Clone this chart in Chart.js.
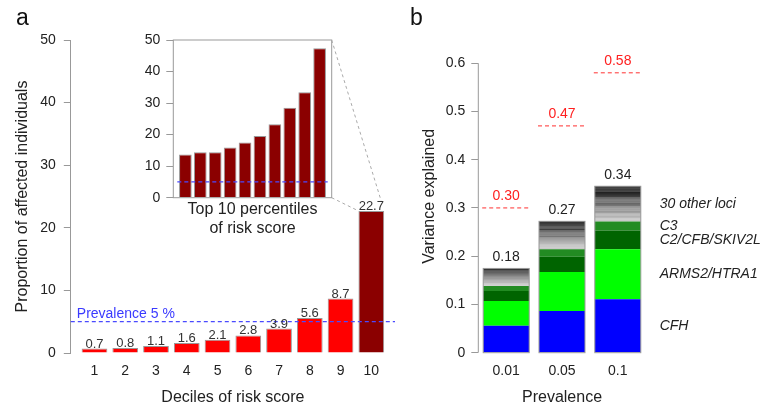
<!DOCTYPE html>
<html>
<head>
<meta charset="utf-8">
<script src="https://cdn.jsdelivr.net/npm/chart.js@4.4.1/dist/chart.umd.min.js"></script>
<style>
  body { margin: 0; background: #fff; }
  #wrap { position: relative; width: 763px; height: 409px; overflow: hidden; }
  canvas { position: absolute; top: 0; }
</style>
</head>
<body>
<div id="wrap">
  <canvas id="riskChart" width="400" height="409" style="left:0"></canvas>
  <canvas id="topChart" width="400" height="409" style="left:0"></canvas>
  <canvas id="varChart" width="363" height="409" style="left:400px"></canvas>
</div>
<script>
// panel a: deciles of risk score
let deciles = [1, 2, 3, 4, 5, 6, 7, 8, 9, 10];
let decileRisk = [0.7, 0.8, 1.1, 1.6, 2.1, 2.8, 3.9, 5.6, 8.7, 22.7];

// inset: top 10 percentiles
let percentiles = [1, 2, 3, 4, 5, 6, 7, 8, 9, 10];
let percentileRisk = [13.7, 14.4, 14.4, 15.9, 17.5, 19.6, 23.3, 28.5, 33.4, 47.4];

let prevalencePct = 5;

// panel b: variance explained
let prevalences = ['0.01', '0.05', '0.1'];
let cfh = [0.056, 0.0865, 0.111];
let arms2 = [0.051, 0.0805, 0.1035];
let c2cfb = [0.021, 0.032, 0.0385];
let c3 = [0.010, 0.0155, 0.019];
// 30 other loci, one list per prevalence (bottom to top)
let otherLoci001 = [0.0018, 0.0015, 0.0014, 0.0013, 0.0012, 0.0014, 0.0012, 0.0013, 0.0011, 0.0013,
                    0.0012, 0.0011, 0.0013, 0.0011, 0.0012, 0.0011, 0.0013, 0.0010, 0.0011, 0.0012,
                    0.0011, 0.0010, 0.0012, 0.0011, 0.0012, 0.0010, 0.0011, 0.0012, 0.0013, 0.0013];
let otherLoci005 = [0.0028, 0.0024, 0.0022, 0.0021, 0.0020, 0.0021, 0.0019, 0.0021, 0.0018, 0.0020,
                    0.0019, 0.0017, 0.0021, 0.0018, 0.0019, 0.0017, 0.0020, 0.0017, 0.0018, 0.0019,
                    0.0017, 0.0017, 0.0018, 0.0017, 0.0019, 0.0017, 0.0017, 0.0018, 0.0020, 0.0018];
let otherLoci01 = [0.0035, 0.0030, 0.0028, 0.0026, 0.0025, 0.0027, 0.0024, 0.0026, 0.0023, 0.0025,
                   0.0024, 0.0022, 0.0026, 0.0023, 0.0024, 0.0022, 0.0025, 0.0021, 0.0023, 0.0024,
                   0.0022, 0.0021, 0.0023, 0.0022, 0.0024, 0.0021, 0.0022, 0.0023, 0.0024, 0.0024];
let totalExplained = [0.18, 0.27, 0.34];
let heritability = [0.30, 0.47, 0.58];
let varTicks = [0, 0.1, 0.2, 0.3, 0.4, 0.5, 0.6];

const FONT = "'Liberation Sans', Arial, Helvetica, sans-serif";
const axisGrey = '#999';
Chart.defaults.font.family = FONT;
Chart.defaults.color = '#222';
Chart.defaults.animation = false;
Chart.defaults.plugins.legend.display = false;
Chart.defaults.plugins.tooltip.enabled = false;

function blueDash(ctx, x0, x1, y) {
    ctx.save();
    ctx.strokeStyle = '#4a4aff';
    ctx.lineWidth = 1.3;
    ctx.setLineDash([4, 3]);
    ctx.beginPath();
    ctx.moveTo(x0, y);
    ctx.lineTo(x1, y);
    ctx.stroke();
    ctx.restore();
}

// ---------- panel a ----------
let riskLabels = {
    id: 'riskLabels',
    afterDatasetsDraw(chart) {
        let {ctx, chartArea, scales} = chart;
        let py = scales.y.getPixelForValue(prevalencePct);
        blueDash(ctx, chartArea.left, chartArea.right, py);
        ctx.save();
        ctx.fillStyle = '#3a3aff';
        ctx.font = '14px ' + FONT;
        ctx.textAlign = 'left';
        ctx.textBaseline = 'alphabetic';
        ctx.fillText('Prevalence ' + prevalencePct + ' %', chartArea.left + 6, py - 4);
        ctx.fillStyle = '#333';
        ctx.font = '13px ' + FONT;
        ctx.textAlign = 'center';
        chart.getDatasetMeta(0).data.forEach((bar, i) => {
            ctx.fillText(decileRisk[i].toFixed(1), bar.x, bar.y - 1);
        });
        ctx.fillStyle = '#111';
        ctx.font = '23px ' + FONT;
        ctx.textAlign = 'left';
        ctx.fillText('a', 16, 25);
        ctx.restore();
    }
};

let riskChart = new Chart(document.getElementById('riskChart'), {
    type: 'bar',
    data: {
        datasets: [{
            data: deciles.map((d, i) => ({x: d, y: decileRisk[i]})),
            backgroundColor: deciles.map(d => d === 10 ? '#8B0000' : '#FF0000'),
            borderColor: axisGrey,
            borderWidth: 1,
            barPercentage: 0.836,
            categoryPercentage: 1
        }]
    },
    options: {
        responsive: false,
        layout: {padding: {left: 0, top: 40, right: 5, bottom: 0}},
        scales: {
            x: {
                type: 'linear',
                offset: false,
                min: 0.23,
                max: 10.77,
                grid: {display: false, drawTicks: false},
                border: {display: false},
                ticks: {font: {size: 14}, padding: 10},
                afterBuildTicks: s => { s.ticks = deciles.map(v => ({value: v})); },
                afterFit: s => { s.height = 56; },
                title: {display: true, text: 'Deciles of risk score', font: {size: 16}, padding: {top: 0, bottom: 2}}
            },
            y: {
                min: 0,
                max: 50,
                ticks: {stepSize: 10, font: {size: 14}, padding: 8},
                grid: {drawOnChartArea: false, tickLength: 7, color: axisGrey},
                border: {color: axisGrey},
                afterFit: s => { s.width = 70.8; },
                title: {display: true, text: 'Proportion of affected individuals', font: {size: 16}, padding: {top: 13, bottom: 0}}
            }
        }
    },
    plugins: [riskLabels]
});

// ---------- inset ----------
let insetFrame = {
    id: 'insetFrame',
    afterDraw(chart) {
        let {ctx, chartArea: a, scales} = chart;
        ctx.save();
        ctx.strokeStyle = axisGrey;
        ctx.lineWidth = 1;
        ctx.strokeRect(a.left, a.top, a.right - a.left, a.bottom - a.top);
        blueDash(ctx, a.left + 4, a.right - 4, scales.y.getPixelForValue(prevalencePct));
        // zoom lines to the top decile bar
        let bar = riskChart.getDatasetMeta(0).data[9];
        ctx.strokeStyle = '#aaa';
        ctx.setLineDash([3, 3]);
        ctx.beginPath();
        ctx.moveTo(a.right, a.top);
        ctx.lineTo(bar.x + bar.width / 2 - 3, bar.y - 10);
        ctx.moveTo(a.right, a.bottom);
        ctx.lineTo(bar.x - bar.width / 2, bar.y);
        ctx.stroke();
        ctx.restore();
    }
};

let topChart = new Chart(document.getElementById('topChart'), {
    type: 'bar',
    data: {
        datasets: [{
            data: percentiles.map((p, i) => ({x: p, y: percentileRisk[i]})),
            backgroundColor: '#8B0000',
            borderColor: axisGrey,
            borderWidth: 1,
            barPercentage: 0.85,
            categoryPercentage: 1
        }]
    },
    options: {
        responsive: false,
        layout: {padding: {left: 123.3, top: 40, right: 68.3, bottom: 170.5}},
        scales: {
            x: {
                type: 'linear',
                offset: false,
                min: 0.19,
                max: 10.81,
                grid: {display: false, drawTicks: false},
                border: {display: false},
                ticks: {display: false},
                afterBuildTicks: s => { s.ticks = percentiles.map(v => ({value: v})); },
                afterFit: s => { s.height = 40.8; },
                title: {display: true, text: ['Top 10 percentiles', 'of risk score'],
                        font: {size: 16, lineHeight: '19px'}, padding: {top: 0, bottom: 0}}
            },
            y: {
                min: 0,
                max: 50,
                ticks: {stepSize: 10, font: {size: 14}, padding: 6},
                grid: {drawOnChartArea: false, tickLength: 7, color: axisGrey},
                border: {display: false},
                afterFit: s => { s.width = 50; }
            }
        }
    },
    plugins: [insetFrame]
});

// ---------- panel b ----------
let greyLevel = k => Math.round(200 * (1 - k / 29));
let lociDatasets = otherLoci001.map((v, k) => ({
    label: 'locus ' + (k + 1),
    data: [otherLoci001[k], otherLoci005[k], otherLoci01[k]],
    backgroundColor: 'rgb(' + greyLevel(k) + ',' + greyLevel(k) + ',' + greyLevel(k) + ')'
}));

let varDatasets = [
    {label: 'CFH', data: cfh, backgroundColor: '#0000FF'},
    {label: 'ARMS2/HTRA1', data: arms2, backgroundColor: '#00FF00'},
    {label: 'C2/CFB/SKIV2L', data: c2cfb, backgroundColor: '#006400'},
    {label: 'C3', data: c3, backgroundColor: '#228B22'}
].concat(lociDatasets);
varDatasets.forEach(d => {
    d.borderWidth = 0;
    d.barPercentage = 0.824;
    d.categoryPercentage = 1;
});

let varLabels = {
    id: 'varLabels',
    afterDatasetsDraw(chart) {
        let {ctx, chartArea, scales} = chart;
        let y = scales.y;
        let n = chart.data.datasets.length;
        ctx.save();
        // axis line from 0 to 0.6
        ctx.strokeStyle = axisGrey;
        ctx.lineWidth = 1;
        ctx.beginPath();
        ctx.moveTo(chartArea.left, y.getPixelForValue(0));
        ctx.lineTo(chartArea.left, y.getPixelForValue(varTicks[varTicks.length - 1]));
        ctx.stroke();
        ctx.font = '14px ' + FONT;
        ctx.textAlign = 'center';
        ctx.textBaseline = 'middle';
        chart.getDatasetMeta(n - 1).data.forEach((bar, j) => {
            let left = bar.x - bar.width / 2;
            let bottom = y.getPixelForValue(0);
            ctx.strokeStyle = axisGrey;
            ctx.setLineDash([]);
            ctx.strokeRect(left, bar.y, bar.width, bottom - bar.y);
            ctx.fillStyle = '#222';
            ctx.fillText(totalExplained[j].toFixed(2), bar.x, bar.y - 11);
            let hy = y.getPixelForValue(heritability[j]);
            ctx.strokeStyle = '#ff3030';
            ctx.setLineDash([4, 3]);
            ctx.beginPath();
            ctx.moveTo(left - 1, hy);
            ctx.lineTo(left + bar.width, hy);
            ctx.stroke();
            ctx.fillStyle = '#ff2020';
            ctx.fillText(heritability[j].toFixed(2), bar.x, hy - 12);
        });
        // group names beside the last bar
        let groups = [cfh, arms2, c2cfb, c3];
        let names = ['CFH', 'ARMS2/HTRA1', 'C2/CFB/SKIV2L', 'C3'];
        let j = prevalences.length - 1;
        let base = 0;
        ctx.fillStyle = '#222';
        ctx.font = 'italic 14px ' + FONT;
        ctx.textAlign = 'left';
        let lx = chartArea.right + 14;
        groups.forEach((g, i) => {
            ctx.fillText(names[i], lx, y.getPixelForValue(base + g[j] / 2));
            base += g[j];
        });
        let others = otherLoci01.reduce((s, v) => s + v, 0);
        ctx.fillText(otherLoci01.length + ' other loci', lx, y.getPixelForValue(base + others / 2));
        ctx.font = '23px ' + FONT;
        ctx.fillStyle = '#111';
        ctx.textBaseline = 'alphabetic';
        ctx.fillText('b', 10, 25);
        ctx.restore();
    }
};

let varChart = new Chart(document.getElementById('varChart'), {
    type: 'bar',
    data: {labels: prevalences, datasets: varDatasets},
    options: {
        responsive: false,
        layout: {padding: {left: 0, top: 40, right: 117.3, bottom: 0}},
        scales: {
            x: {
                stacked: true,
                grid: {display: false, drawTicks: false},
                border: {display: false},
                ticks: {font: {size: 14}, padding: 10},
                afterFit: s => { s.height = 56.3; },
                title: {display: true, text: 'Prevalence', font: {size: 16}, padding: {top: 0, bottom: 2}}
            },
            y: {
                stacked: true,
                min: 0,
                max: 0.648,
                afterBuildTicks: s => { s.ticks = varTicks.map(v => ({value: v})); },
                ticks: {font: {size: 14}, padding: 6, callback: v => String(v)},
                grid: {drawOnChartArea: false, tickLength: 7, color: axisGrey},
                border: {display: false},
                afterFit: s => { s.width = 78.3; },
                title: {display: true, text: 'Variance explained', font: {size: 16}, padding: {top: 20, bottom: 0}}
            }
        }
    },
    plugins: [varLabels]
});
</script>
</body>
</html>
